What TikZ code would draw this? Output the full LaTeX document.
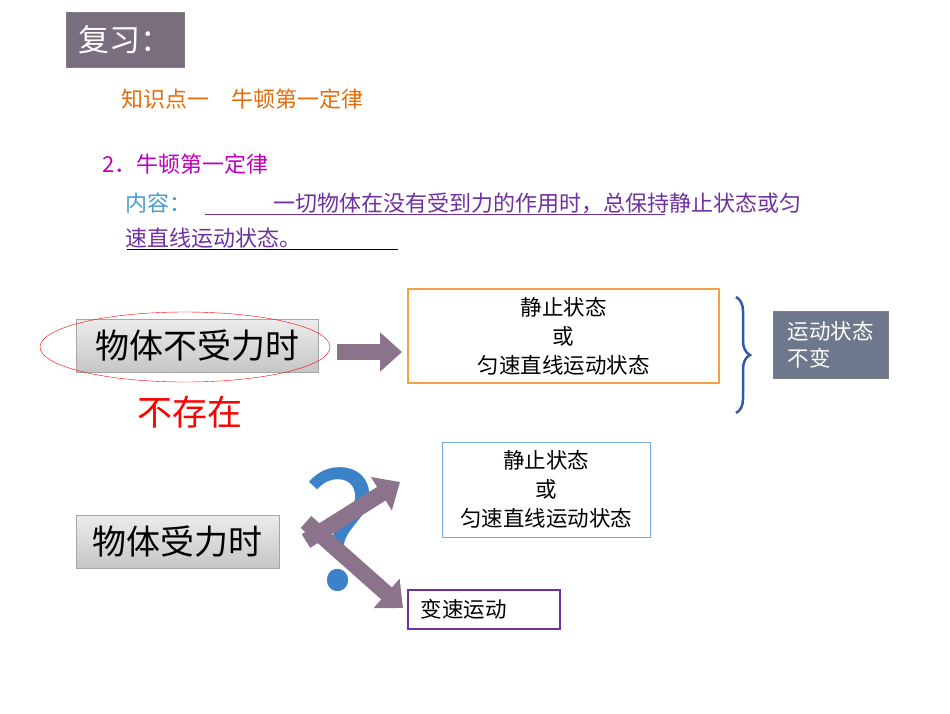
\documentclass[tikz,border=0pt]{standalone}
\usepackage{fontspec}
\setmainfont{Noto Sans CJK SC}
\usetikzlibrary{decorations.pathreplacing,arrows.meta}
\definecolor{ttl}{RGB}{120,110,125}
\definecolor{org}{RGB}{228,108,10}
\definecolor{mag}{RGB}{190,0,190}
\definecolor{lbl}{RGB}{75,155,205}
\definecolor{pur}{RGB}{112,48,160}
\definecolor{obox}{RGB}{245,160,70}
\definecolor{bbox}{RGB}{120,170,210}
\definecolor{brc}{RGB}{50,90,170}
\definecolor{gb}{RGB}{110,120,140}
\definecolor{arr}{RGB}{140,115,140}
\definecolor{qm}{RGB}{60,130,200}
\tikzset{
 graybox/.style={draw=gray!70,top color=gray!15,bottom color=gray!45,minimum height=53pt,font=\fontsize{34}{35}\selectfont,inner sep=4pt},
 txtbox/.style={draw,line width=1.5pt,align=center,font=\fontsize{21.5}{29}\selectfont},
 fatarrow/.style={draw=arr,line width=16pt,-{Triangle[length=22pt,width=38pt,fill=arr]}},
 bodytext/.style={anchor=west,font=\fontsize{22}{24}\selectfont}
}
\begin{document}
\begin{tikzpicture}[x=1pt,y=-1pt]
\useasboundingbox (0,0) rectangle (950,713);
\node[fill=ttl,draw=gray,minimum width=118pt,minimum height=55pt,text=white,font=\fontsize{31}{32}\selectfont] (title) at (125,39.5) {复习：};
\node[bodytext,text=org] (k1) at (118,99) {知识点一\quad 牛顿第一定律};
\node[bodytext,text=mag] (k2) at (99,164) {2．牛顿第一定律};
\node[bodytext,text=lbl] (nr) at (122,203) {内容：};
\node[bodytext,text=pur] (l1) at (270,203) {一切物体在没有受到力的作用时，总保持静止状态或匀};
\node[bodytext,text=pur] (l2) at (122,238) {速直线运动状态。};
\draw[pur] (205,214) -- (665,214);
\draw[black] (127,249) -- (398,249);

\node[graybox,minimum width=242pt] (a) at (197,346) {物体不受力时};
\draw[red] (185,347) ellipse (145 and 35);
\coordinate (a1) at (337,352); \coordinate (a2) at (402,352);
\draw[fatarrow] (a1) -- (a2);
\node[txtbox,draw=obox,minimum width=311pt,minimum height=94pt] (b) at (563.5,336) {静止状态\\或\\匀速直线运动状态};
\draw[brc,line width=2.5pt,decorate,decoration={brace,amplitude=14pt}] (736,297) -- (736,413);
\node[fill=gb,draw=gray,minimum width=115pt,minimum height=67pt,text=white,align=left,font=\fontsize{21.5}{27}\selectfont] (c) at (830.5,344.5) {运动状态\\不变};
\node[text=red,font=\fontsize{35}{36}\selectfont] (ne) at (190,412) {不存在};

\node[graybox,minimum width=203pt] (d) at (177.5,541.5) {物体受力时};
\node[text=qm,font=\fontsize{160}{160}\selectfont] (q) at (340,530) {?};
\coordinate (b1) at (306,541); \coordinate (b2) at (400,482);
\coordinate (c1) at (306,522); \coordinate (c2) at (403,608);
\draw[fatarrow] (c1) -- (c2);
\draw[fatarrow] (b1) -- (b2);
\node[txtbox,draw=bbox,line width=1pt,minimum width=208pt,minimum height=95pt] (e) at (546,489.5) {静止状态\\或\\匀速直线运动状态};
\node[txtbox,draw=pur,minimum width=152pt,minimum height=39pt,anchor=west,align=left] (f) at (407,609.5) {变速运动\hspace{40pt}};
\end{tikzpicture}
\end{document}
